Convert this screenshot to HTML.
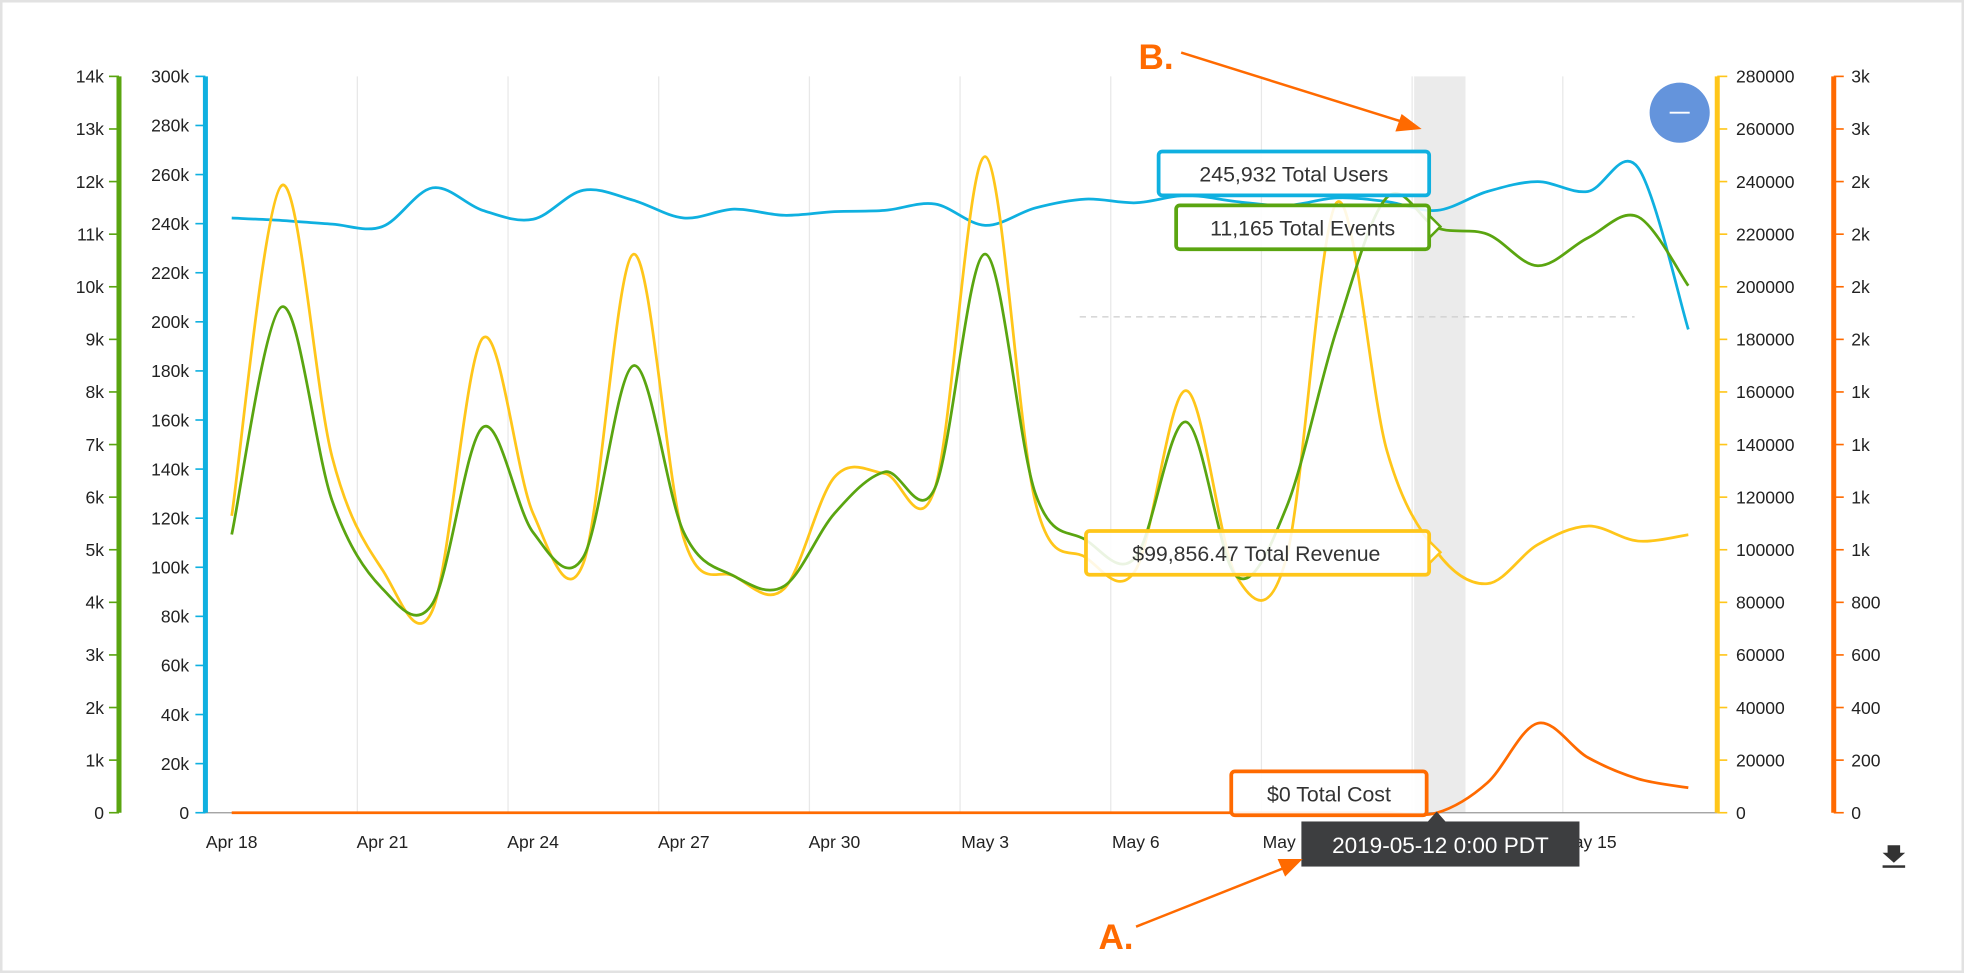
<!DOCTYPE html>
<html><head><meta charset="utf-8">
<style>
html,body{margin:0;padding:0;background:#fff;}
svg{display:block;font-family:"Liberation Sans",sans-serif;}
</style></head>
<body>
<svg id="chart" width="1964" height="973" viewBox="0 0 1568 777" preserveAspectRatio="none" xmlns="http://www.w3.org/2000/svg">
<rect x="1" y="1" width="1566" height="775" fill="#fff" stroke="#e2e2e2" stroke-width="2"/>
<g id="grid"></g>
<rect x="1129" y="61" width="41" height="588" fill="#ebebeb"/>
<line x1="862" y1="253" x2="1305" y2="253" stroke="#ccc" stroke-dasharray="5,4"/>
<line x1="163" y1="649" x2="1371" y2="649" stroke="#999" stroke-width="1"/>
<g id="axes"></g>
<g id="series"></g>
<g id="overlay">
 <circle cx="1341" cy="90" r="24" fill="#6494dc"/>
 <line x1="1333" y1="90" x2="1349" y2="90" stroke="#fff" stroke-width="1.5"/>
 <g>
  <polygon points="1507,675 1517,675 1517,681 1521,681 1512,689 1503,681 1507,681" fill="#333"/>
  <rect x="1503" y="691" width="18" height="2" fill="#333"/>
 </g>
 <g>
  <rect x="925" y="121" width="216" height="35" rx="3" fill="rgba(255,255,255,0.88)" stroke="#0fb0e0" stroke-width="3"/>
  <text x="1033" y="145" text-anchor="middle" font-size="17" fill="#333">245,932 Total Users</text>
 </g>
 <g>
  <rect x="939" y="164" width="202" height="35" rx="3" fill="rgba(255,255,255,0.88)" stroke="#5aa510" stroke-width="3"/>
  <polygon points="1141,172 1150,181 1141,190" fill="#fff" stroke="#5aa510" stroke-width="2"/>
  <text x="1040" y="188" text-anchor="middle" font-size="17" fill="#333">11,165 Total Events</text>
 </g>
 <g>
  <rect x="867" y="424" width="274" height="35" rx="3" fill="rgba(255,255,255,0.88)" stroke="#ffc61a" stroke-width="3"/>
  <polygon points="1141,432 1150,441 1141,450" fill="#fff" stroke="#ffc61a" stroke-width="2"/>
  <text x="1003" y="448" text-anchor="middle" font-size="17" fill="#333">$99,856.47 Total Revenue</text>
 </g>
 <g>
  <rect x="983" y="616" width="156" height="35" rx="3" fill="rgba(255,255,255,0.9)" stroke="#ff6a00" stroke-width="3"/>
  <text x="1061" y="640" text-anchor="middle" font-size="17" fill="#333">$0 Total Cost</text>
 </g>
 <g>
  <rect x="1039" y="656" width="222" height="36" fill="#3d3e40"/>
  <polygon points="1140,656 1147,648 1154,656" fill="#3d3e40"/>
  <text x="1150" y="681" text-anchor="middle" font-size="18" fill="#fff">2019-05-12 0:00 PDT</text>
 </g>
 <g>
  <text x="909" y="55" font-size="28" font-weight="bold" fill="#ff6a00">B.</text>
  <line x1="943" y1="42" x2="1122" y2="98" stroke="#ff6a00" stroke-width="2"/>
  <polygon points="1135,103 1114,105 1119,91" fill="#ff6a00"/>
 </g>
 <g>
  <text x="877" y="758" font-size="28" font-weight="bold" fill="#ff6a00">A.</text>
  <line x1="907" y1="740" x2="1028" y2="692" stroke="#ff6a00" stroke-width="2"/>
  <polygon points="1040,686 1020,686 1026,700" fill="#ff6a00"/>
 </g>
</g>
</svg>
<script>
const dayLabels = ["Apr 18","Apr 21","Apr 24","Apr 27","Apr 30","May 3","May 6","May 9","May 12","May 15"];
const users = [242300,241300,239800,238800,254600,245400,241800,253600,249500,242300,245900,243400,244900,245400,248000,239300,246400,250000,248500,251500,249000,247400,250500,249000,245400,253100,257100,253100,262800,196900];
const events = [5290,9620,5930,4260,3980,7330,5330,4860,8500,5330,4500,4310,5690,6480,6170,10620,6070,5190,4860,7430,4500,5810,9190,11700,11120,11000,10400,10930,11330,10020];
const revenue = [112900,238600,135200,92400,77100,180500,113800,94800,212400,104300,90000,85200,127600,129000,123300,249500,118100,97100,92400,160500,90000,97100,232000,137600,99000,87100,101900,109000,103300,105700];
const cost = [0,0,0,0,0,0,0,0,0,0,0,0,0,0,0,0,0,0,0,0,0,0,0,0,0,114,340,210,129,95];
const greenTicks = ["0","1k","2k","3k","4k","5k","6k","7k","8k","9k","10k","11k","12k","13k","14k"];
const blueTicks = ["0","20k","40k","60k","80k","100k","120k","140k","160k","180k","200k","220k","240k","260k","280k","300k"];
const yellowTicks = ["0","20000","40000","60000","80000","100000","120000","140000","160000","180000","200000","220000","240000","260000","280000"];
const orangeTicks = ["0","200","400","600","800","1k","1k","1k","1k","2k","2k","2k","2k","3k","3k"];

const NS="http://www.w3.org/2000/svg";
const TOP=61,BOT=649;
const xDay=d=>185+40.1*d;
const yScale=(v,max)=>BOT-(v/max)*(BOT-TOP);
function mk(tag,attrs,parent){const e=document.createElementNS(NS,tag);for(const k in attrs)e.setAttribute(k,attrs[k]);parent.appendChild(e);return e;}
const grid=document.getElementById('grid'),axes=document.getElementById('axes'),series=document.getElementById('series');

for(let i=1;i<dayLabels.length;i++){
  const g=mk('line',{x1:xDay(i*3)-20,y1:TOP,x2:xDay(i*3)-20,y2:BOT,stroke:'#e8e8e8','stroke-width':1},grid);
  
  
}
dayLabels.forEach((l,i)=>{
  const t=mk('text',{x:xDay(i*3),y:677,'text-anchor':'middle','font-size':14,fill:'#222'},axes);
  t.textContent=l;
  
  
});

function axis(ticks,x,color,side,labelX,anchor,name){
  const n=ticks.length-1;
  const l=mk('line',{x1:x,y1:TOP,x2:x,y2:BOT,stroke:color,'stroke-width':4},axes);
  
  
  ticks.forEach((tk,i)=>{
    const y=BOT-i*(BOT-TOP)/n;
    mk('line',{x1:x,y1:y,x2:x+side*8,y2:y,stroke:color,'stroke-width':1.3},axes);
    const t=mk('text',{x:labelX,y:y+5,'text-anchor':anchor,'font-size':14,fill:'#222'},axes);
    t.textContent=tk;
    
    
  });
}
axis(greenTicks,95,'#5aa510',-1,83,'end','events-y');
axis(blueTicks,164,'#0fb0e0',-1,151,'end','users-y');
axis(yellowTicks,1371,'#ffc61a',1,1386,'start','revenue-y');
axis(orangeTicks,1464,'#ff6a00',1,1478,'start','cost-y');

function path(vals,max,color,name,w){
  const p=vals.map((v,i)=>[xDay(i),yScale(v,max)]);
  let d='M'+p[0][0]+','+p[0][1];
  for(let i=0;i<p.length-1;i++){
    const p0=p[i-1]||p[i],p1=p[i],p2=p[i+1],p3=p[i+2]||p2;
    const c1=[p1[0]+(p2[0]-p0[0])/6,p1[1]+(p2[1]-p0[1])/6];
    const c2=[p2[0]-(p3[0]-p1[0])/6,p2[1]-(p3[1]-p1[1])/6];
    d+=' C'+c1[0]+','+c1[1]+' '+c2[0]+','+c2[1]+' '+p2[0]+','+p2[1];
  }
  const e=mk('path',{d:d,fill:'none',stroke:color,'stroke-width':w||2.2},series);
  
  
}
path(cost,2800,'#ff6a00','cost-line');
path(users,300000,'#0fb0e0','users-line');
path(revenue,280000,'#ffc61a','revenue-line');
path(events,14000,'#5aa510','events-line');
</script>
</body></html>
